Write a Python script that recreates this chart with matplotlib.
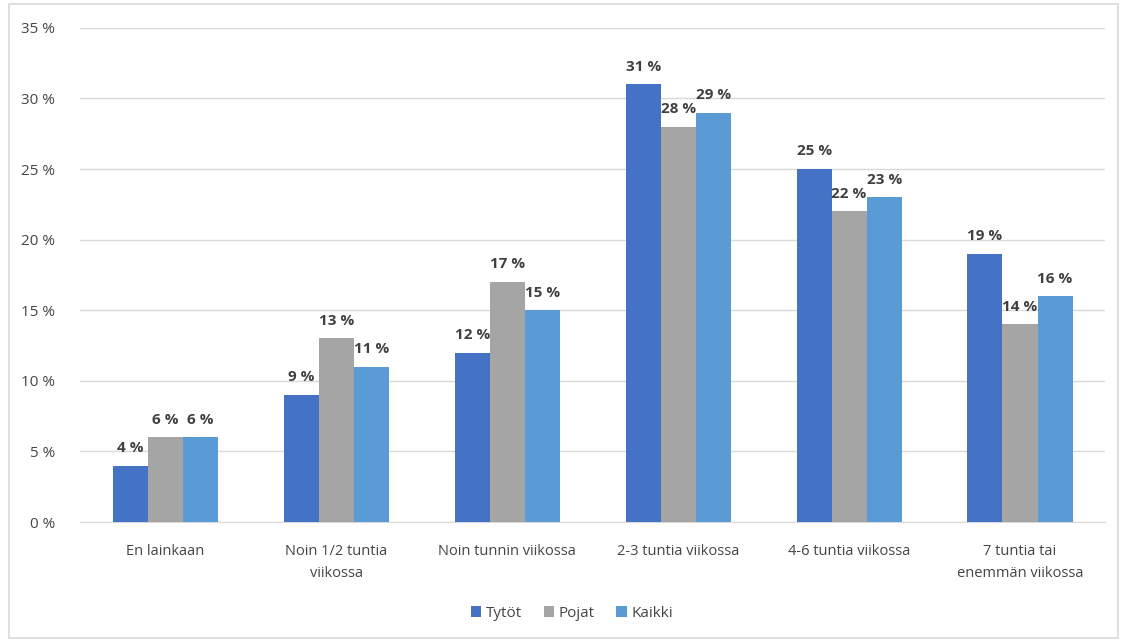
import matplotlib

matplotlib.use("Agg")

import matplotlib.pyplot as plt
import numpy as np
from matplotlib.patches import Rectangle

categories = [
    "En lainkaan",
    "Noin 1/2 tuntia\nviikossa",
    "Noin tunnin viikossa",
    "2-3 tuntia viikossa",
    "4-6 tuntia viikossa",
    "7 tuntia tai\nenemmän viikossa",
]
tytot = [4, 9, 12, 31, 25, 19]
pojat = [6, 13, 17, 28, 22, 14]
kaikki = [6, 11, 15, 29, 23, 16]

series = [("Tytöt", tytot, "#4472C4"), ("Pojat", pojat, "#A5A5A5"), ("Kaikki", kaikki, "#5B9BD5")]

plt.rcParams["font.family"] = ["Open Sans", "DejaVu Sans"]

fig = plt.figure(figsize=(11.28, 6.41), dpi=100)
ax = fig.add_axes([0.071, 0.1856, 0.909, 0.771])

x = np.arange(len(categories))
width = 0.205
for i, (name, values, color) in enumerate(series):
    pos = x + (i - 1) * width
    bars = ax.bar(pos, values, width, color=color, label=name, zorder=3)
    for b, v in zip(bars, values):
        ax.text(b.get_x() + b.get_width() / 2, v + 0.75, f"{v} %", ha="center", va="bottom",
                fontsize=11, fontweight="bold", color="#404040", zorder=4)

ax.set_xlim(-0.5, len(categories) - 0.5)
ax.set_ylim(0, 35)
ax.set_yticks(range(0, 36, 5))
ax.set_yticklabels([f"{t} %" for t in range(0, 36, 5)], fontsize=11, color="#454545")
ax.set_xticks(x)
ax.set_xticklabels(categories, fontsize=10.5, color="#454545", linespacing=1.6)
ax.tick_params(axis="both", length=0)
ax.tick_params(axis="y", pad=18)
ax.tick_params(axis="x", pad=16)
ax.grid(axis="y", color="#D9D9D9", linewidth=1, zorder=0)
for side in ["top", "right", "left"]:
    ax.spines[side].set_visible(False)
ax.spines["bottom"].set_color("#D9D9D9")

fig.legend(loc="center", bbox_to_anchor=(0.507, 0.043), ncol=3, frameon=False, fontsize=11,
           handlelength=0.7, handleheight=0.7, handletextpad=0.3, columnspacing=1.4,
           labelcolor="#454545")

fig.patches.append(Rectangle((0.008, 0.005), 0.983, 0.988, transform=fig.transFigure,
                             fill=False, edgecolor="#D9D9D9", linewidth=1.2))

fig.savefig("out.png", dpi=100)
